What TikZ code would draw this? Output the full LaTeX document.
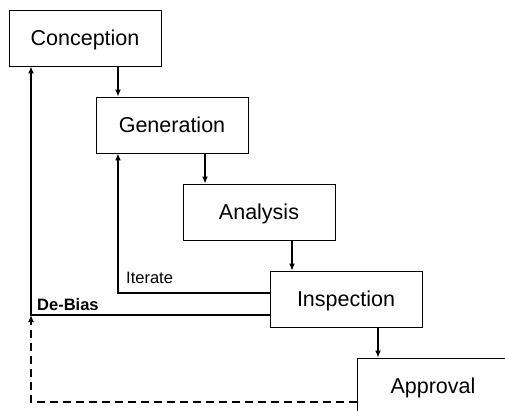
\documentclass[tikz,border=0pt]{standalone}
\usepackage{fontspec}
\setmainfont{Liberation Sans}
\usetikzlibrary{arrows.meta}
\begin{document}
\begin{tikzpicture}[x=1pt,y=-1pt,
  stage/.style={draw, line width=0.9pt, minimum width=152pt, minimum height=56pt,
    inner sep=0pt, text depth=0pt, font=\fontsize{21.5}{24}\selectfont},
  flow/.style={line width=1.3pt, -{Latex[length=7pt,width=6pt]}},
  back/.style={line width=1.3pt, -{Latex[length=7pt,width=6pt]}},
  dashback/.style={line width=1.3pt, dash pattern=on 8pt off 5pt, -{Latex[length=7pt,width=6pt]}},
  tag/.style={inner sep=0pt, font=\fontsize{16.5}{19}\selectfont}]
  \useasboundingbox (0,0) rectangle (505,410);
  \clip (0,0) rectangle (505,410);

  % process stages
  \node[stage] (con) at (85,38)   {Conception};
  \node[stage] (gen) at (172,125) {Generation};
  \node[stage] (ana) at (259,212) {Analysis};
  \node[stage] (ins) at (346,299) {Inspection};
  \node[stage] (app) at (433,386) {Approval};

  % forward steps
  \draw[flow] (con.south -| 118,0) -- (gen.north -| 118,0);
  \draw[flow] (gen.south -| 205,0) -- (ana.north -| 205,0);
  \draw[flow] (ana.south -| 292,0) -- (ins.north -| 292,0);
  \draw[flow] (ins.south -| 378,0) -- (app.north -| 378,0);

  % feedback loops
  \coordinate (itc) at (118,293);
  \coordinate (dbc) at (31,315);
  \coordinate (apc) at (31,402);
  \draw[back] (ins.west |- itc) -- (itc) -- (gen.south -| itc);
  \draw[back] (ins.west |- dbc) -- (dbc) -- (con.south -| dbc);
  \draw[dashback] (app.west |- apc) -- (apc) -- (dbc);

  % loop labels
  \node[tag, anchor=base west] (itl) at (126,283) {Iterate};
  \node[tag, anchor=base west, font=\fontsize{16.5}{19}\selectfont\bfseries] (dbl) at (37,310) {De-Bias};
\end{tikzpicture}
\end{document}
